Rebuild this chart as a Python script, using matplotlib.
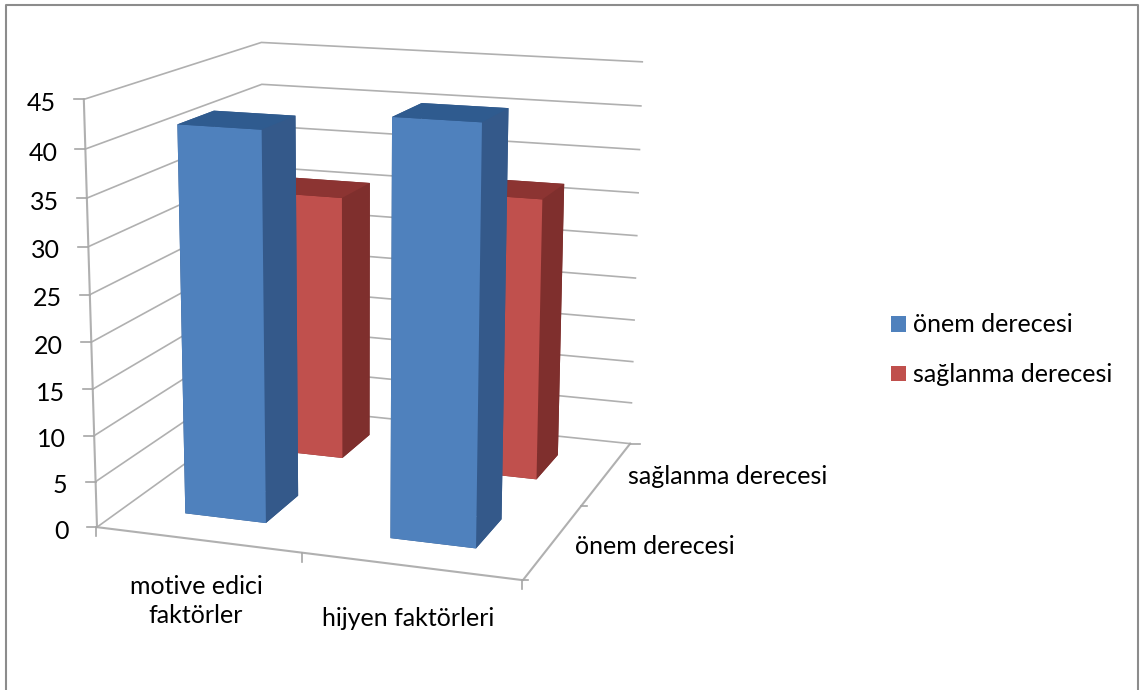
import numpy as np
import matplotlib
matplotlib.use("Agg")
import matplotlib.pyplot as plt
from matplotlib.patches import Rectangle

plt.rcParams['font.family'] = ['Lato', 'DejaVu Sans']

W, H = 1142, 690

# veriler
categories = ["motive edici\nfaktörler", "hijyen faktörleri"]
series = ["önem derecesi", "sağlanma derecesi"]
onem = [41.8, 43.9]
saglanma = [30.4, 31.85]
z_ticks = [0, 5, 10, 15, 20, 25, 30, 35, 40, 45]

# renkler: on, yan, ust
blue = ["#4f81bd", "#34598a", "#2f5b8f"]
red = ["#c0504d", "#7f2f2d", "#8c3432"]
grid_c = "#b0b0b0"
tick_c = "#a6a6a6"

BAR = 0.4  # gap 150
OFF = 0.3

# kutu koordinati -> piksel eslesmesi
calib = [
    ((0, 0, 0), (98, 527)),
    ((2, 0, 0), (520, 583)),
    ((2, 2, 0), (628, 443)),
    ((0, 2, 0), (263, 408)),
    ((0, 0, 45), (83, 100)),
    ((2, 2, 45), (643, 62)),
    ((0, 2, 45), (263, 42)),
    ((0.3, 0.3, 0), (186, 512)),
    ((0.7, 0.3, 0), (265, 523)),
    ((1.3, 0.3, 0), (389, 538)),
    ((1.7, 0.3, 0), (476, 550)),
    ((1.7, 0.7, 0), (510, 515)),
    ((0.3, 0.3, 41.8), (178, 124)),
    ((0.7, 0.3, 41.8), (261, 128)),
    ((1.3, 0.3, 43.9), (392, 118)),
    ((1.7, 0.3, 43.9), (480, 123)),
]


def fit_projection(pairs):
    A, b = [], []
    for (x, y, z), (u, v) in pairs:
        A.append([x, y, z, 1, 0, 0, 0, 0, -u * x, -u * y, -u * z])
        b.append(u)
        A.append([0, 0, 0, 0, x, y, z, 1, -v * x, -v * y, -v * z])
        b.append(v)
    p = np.linalg.lstsq(np.array(A, float), np.array(b, float), rcond=None)[0]
    return np.append(p, 1).reshape(3, 4)


def project(x, y, z):
    u, v, w = P @ np.array([x, y, z, 1.0])
    return u / w, v / w


def pixel_axes(z):
    a = fig.add_axes([0, 0, 1, 1], zorder=z)
    a.set_xlim(0, W)
    a.set_ylim(H, 0)
    a.axis("off")
    a.patch.set_alpha(0)
    return a


P = fit_projection(calib)

fig = plt.figure(figsize=(W / 100, H / 100), dpi=100, facecolor="white")

# arka katman: duvar cizgileri
bg = pixel_axes(0)
for t in z_ticks:
    pts = [project(0, 0, t), project(0, 2, t), project(2, 2, t)]
    bg.plot([p[0] for p in pts], [p[1] for p in pts], color=grid_c, lw=1.2)
pts = [project(0, 0, 45), project(0, 0, 0), project(2, 0, 0), project(2, 2, 0)]
bg.plot([p[0] for p in pts], [p[1] for p in pts], color=grid_c, lw=1.5)

# sutunlar
ax = fig.add_axes([0, 0, 1, 1], projection="3d", zorder=1)
ax.set_axis_off()
ax.patch.set_alpha(0)
ax.computed_zorder = False
ax.apply_aspect = lambda position=None: None

vl = ax.viewLim
to_view = np.array([
    [vl.width / W, 0, vl.x0],
    [0, -vl.height / H, vl.y1],
    [0, 0, 1],
])
Q = to_view @ P
M = np.array([Q[0], Q[1], [-0.5, 1, -0.02, 0], Q[2]])
ax.get_proj = lambda: M
ax.set_xlim(0, 2)
ax.set_ylim(0, 2)
ax.set_zlim(0, 45)


def bar(i, j, h, cols, z):
    front, side, top = cols
    # -Z, +Z, -Y, +Y, -X, +X
    faces = [side, top, front, side, side, side]
    ax.bar3d(i + OFF, j + OFF, 0, BAR, BAR, h, color=faces, shade=False,
             linewidth=0, edgecolor="none", zorder=z)


# arkadan one dogru
bar(1, 1, saglanma[1], red, 2)
bar(0, 1, saglanma[0], red, 3)
bar(1, 0, onem[1], blue, 4)
bar(0, 0, onem[0], blue, 5)

# ust katman: isaretler ve yazilar
ov = pixel_axes(2)

fs = 18
for t in z_ticks:
    u, v = project(0, 0, t)
    ov.plot([u - 10, u], [v, v], color=tick_c, lw=1.2)
    ov.text(u - 28, v + 4, str(t), ha="right", va="center", fontsize=fs, color="black")

for x in [0, 1, 2]:
    u, v = project(x, 0, 0)
    ov.plot([u - 1, u - 1], [v, v + 9], color=tick_c, lw=1.2)
for y, tl in zip([0, 1, 2], [5, 6, 10]):
    u, v = project(2, y, 0)
    ov.plot([u, u + tl], [v, v], color=tick_c, lw=1.2)

ov.text(196, 601, categories[0], ha="center", va="center", fontsize=fs, linespacing=1.33)
ov.text(408, 618, categories[1], ha="center", va="center", fontsize=fs)
ov.text(575, 547, series[0], ha="left", va="center", fontsize=fs)
ov.text(628, 477, series[1], ha="left", va="center", fontsize=fs)

# lejant
ov.add_patch(Rectangle((891, 316), 15, 16, color=blue[0], lw=0))
ov.add_patch(Rectangle((891, 366), 15, 15, color=red[0], lw=0))
ov.text(913, 325, series[0], ha="left", va="center", fontsize=fs)
ov.text(913, 374, series[1], ha="left", va="center", fontsize=fs)

# cerceve
ov.plot([6, 6, 1138, 1138], [H, 5, 5, H], color="#8c8c8c", lw=1.5)

fig.savefig("out.png", dpi=100)
